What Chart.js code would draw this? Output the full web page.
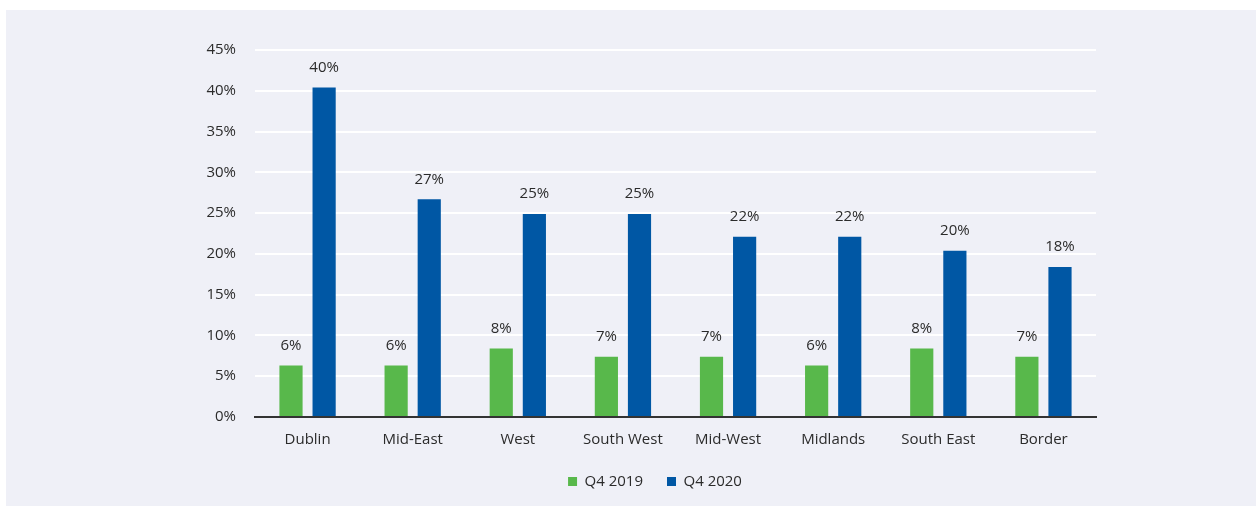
<!DOCTYPE html>
<html><head><meta charset="utf-8">
<script src="https://cdn.jsdelivr.net/npm/chart.js@4"></script>
<style>
html,body{margin:0;padding:0;background:#fff;overflow:hidden;}
#panel{position:absolute;left:6px;top:10px;width:1250px;height:496px;background:#eff0f7;}
canvas{display:block;}
</style></head><body>
<div id="panel"><canvas id="c" width="1250" height="496" style="width:1250px;height:496px"></canvas></div>
<script>
const categories = ['Dublin','Mid-East','West','South West','Mid-West','Midlands','South East','Border'];
const seriesNames = ['Q4 2019','Q4 2020'];
const q4_2019 = [6.3, 6.3, 8.4, 7.4, 7.4, 6.3, 8.4, 7.4];
const q4_2020 = [40.4, 26.7, 24.9, 24.9, 22.1, 22.1, 20.4, 18.4];
const yMin = 0, yMax = 45, yStep = 5;

const GREEN = '#58b84b', BLUE = '#0057a4', TEXT = '#2b2b2b';
const FONT = "'Open Sans', sans-serif";

const valueLabels = {
  id: 'valueLabels',
  afterDatasetsDraw(chart) {
    const ctx = chart.ctx;
    ctx.save();
    ctx.font = '15px ' + FONT;
    ctx.fillStyle = TEXT;
    ctx.textAlign = 'center';
    ctx.textBaseline = 'middle';
    chart.data.datasets.forEach((ds, i) => {
      chart.getDatasetMeta(i).data.forEach((el, j) => {
        ctx.fillText(Math.round(ds.data[j]) + '%', el.x, el.y - 20);
      });
    });
    ctx.restore();
  }
};

const legendShift = {
  id: 'legendShift',
  afterLayout(chart) {
    if (chart.legend) { chart.legend.left += 104; chart.legend.right += 104; }
  }
};

new Chart(document.getElementById('c'), {
  type: 'bar',
  data: {
    labels: categories,
    datasets: [
      { label: seriesNames[0], data: q4_2019, backgroundColor: GREEN, borderWidth: 0 },
      { label: seriesNames[1], data: q4_2020, backgroundColor: BLUE, borderWidth: 0 }
    ]
  },
  options: {
    responsive: false,
    animation: false,
    devicePixelRatio: 1,
    categoryPercentage: 0.63,
    barPercentage: 0.70,
    layout: { padding: { left: 0, right: 160, top: 40, bottom: 7 } },
    plugins: {
      tooltip: { enabled: false },
      legend: {
        position: 'bottom',
        labels: { font: { family: FONT, size: 15 }, color: TEXT, boxWidth: 9, boxHeight: 9, padding: 24 }
      }
    },
    scales: {
      y: {
        min: yMin, max: yMax,
        afterFit(scale) { scale.width = 249; },
        ticks: { stepSize: yStep, padding: 19, color: TEXT, font: { family: FONT, size: 15 }, callback: v => v + '%' },
        grid: { color: ctx => ctx.tick && ctx.tick.value === 0 ? 'rgba(0,0,0,0)' : '#ffffff', lineWidth: 2, drawTicks: false },
        border: { display: false }
      },
      x: {
        afterFit(scale) { scale.height = 33; },
        ticks: { padding: 14, color: TEXT, font: { family: FONT, size: 15 } },
        grid: { display: false, drawTicks: false },
        border: { display: true, color: '#333333', width: 2 }
      }
    }
  },
  plugins: [valueLabels, legendShift]
});
</script>
</body></html>
